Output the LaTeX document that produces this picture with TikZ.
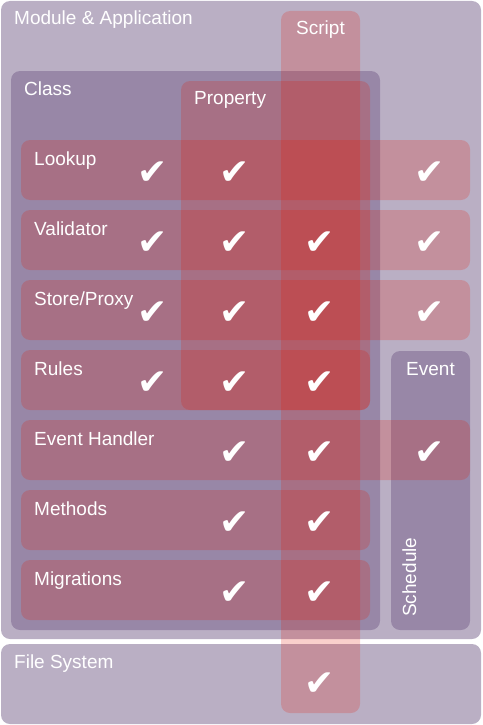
\documentclass[tikz,border=0pt]{standalone}
\usepackage{fontspec}
\setmainfont{Liberation Sans}
\newfontfamily\checkfont{DejaVu Sans}
\definecolor{setpurple}{HTML}{76608A}
\definecolor{setred}{HTML}{E51400}
\begin{document}
\begin{tikzpicture}[x=1pt,y=-1pt,
    purplebox/.style={fill=setpurple, fill opacity=0.5, rounded corners=9pt},
    redbox/.style={fill=setred, fill opacity=0.2, rounded corners=9pt},
    setlabel/.style={text=white, inner sep=0pt, font=\fontsize{19}{22}\selectfont},
    checkmark/.style={text=white, inner sep=0pt, font=\checkfont\fontsize{36}{38}\selectfont}]
    \useasboundingbox (0,0) rectangle (482,725);
    % outer sets
    \fill[purplebox] (1,1) rectangle (481,639);
    \fill[purplebox] (1,644) rectangle (481,724);
    \fill[purplebox] (11,71) rectangle (380,630);
    \fill[purplebox] (391,351) rectangle (470,630);
    % property and script
    \fill[redbox] (181,81) rectangle (370,410);
    \fill[redbox] (281,11) rectangle (360,713);
    % rows
    \foreach \y/\xr in {140/470, 210/470, 280/470, 350/370, 420/470, 490/370, 560/370}
        \fill[redbox] (21,\y) rectangle (\xr,\y+60);
    % set labels
    \node[setlabel, anchor=base west] (module) at (14,25) {Module \& Application};
    \node[setlabel, anchor=base] (script) at (320.5,35) {Script};
    \node[setlabel, anchor=base west] (class) at (24,95) {Class};
    \node[setlabel, anchor=base west] (property) at (194,104) {Property};
    \node[setlabel, anchor=base] (event) at (430.5,375) {Event};
    \node[setlabel, anchor=base west, rotate=90] (schedule) at (416,617) {Schedule};
    \node[setlabel, anchor=base west] (filesystem) at (14,668) {File System};
    % row labels and checks
    \foreach \row/\name/\y/\cols in {lookup/Lookup/140/{153,235,430},
        validator/Validator/210/{153,235,320,430},
        store/Store\slash Proxy/280/{153,235,320,430},
        rules/Rules/350/{153,235,320},
        handler/Event Handler/420/{235,320,430},
        methods/Methods/490/{235,320},
        migrations/Migrations/560/{235,320}} {
        \node[setlabel, anchor=base west] (\row) at (34,\y+25) {\name};
        \foreach \x in \cols
            \node[checkmark] (\row-\x) at (\x,\y+33) {✔};
    }
    \node[checkmark] (filesystem-320) at (320,684) {✔};
\end{tikzpicture}
\end{document}
